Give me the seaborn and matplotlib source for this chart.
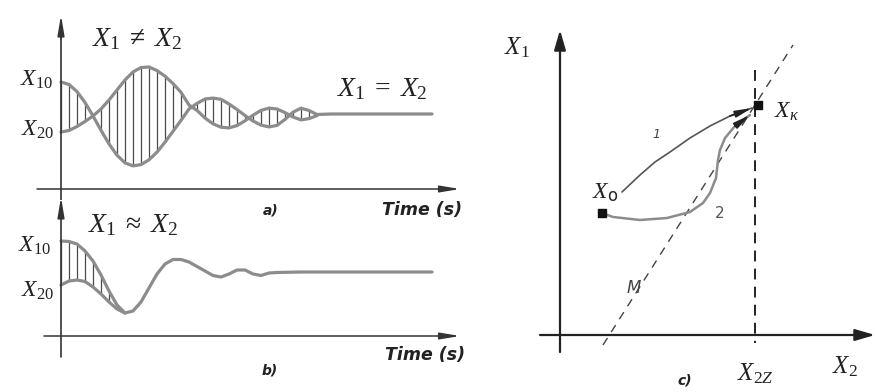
import numpy as np
import pandas as pd
import matplotlib
matplotlib.use("Agg")
import matplotlib.pyplot as plt
import seaborn as sns

# ---------- data ----------
# panel a: two oscillating responses, sampled every 0.8 s
t_a = np.round(np.arange(33) * 0.8, 2)
x1_a = [10.7, 10.45, 9.74, 8.65, 7.31, 5.87, 4.51, 3.38, 2.61, 2.31, 2.44,
        2.92, 3.69, 4.68, 5.77, 6.86, 8.0, 8.56, 9.0, 9.09, 8.97, 8.5,
        7.95, 7.35, 6.8, 6.39, 6.21, 6.36, 6.96, 7.68, 8.08, 7.85, 7.45]
x2_a = [5.7, 5.85, 6.25, 6.75, 7.3, 8.0, 8.9, 9.9, 10.9, 11.7, 12.15,
        12.2, 11.84, 11.28, 10.54, 9.67, 8.4, 7.86, 7.1, 6.52, 6.18, 6.11,
        6.34, 6.82, 7.38, 7.86, 8.09, 8.0, 7.64, 7.2, 6.91, 7.04, 7.34]
t_tail_a = [27.0, 37.1]
x_tail_a = [7.5, 7.5]

# panel b: nearly equal responses
t_b = np.round(np.arange(28) * 0.8, 2)
x1_b = [9.5, 9.45, 9.2, 8.5, 7.5, 6.1, 4.5, 3.1, 2.3, 2.5, 3.4, 4.8, 6.2,
        7.2, 7.65, 7.65, 7.4, 6.95, 6.5, 6.05, 5.9, 6.2, 6.6, 6.6, 6.2,
        6.05, 6.3, 6.35]
x2_b = [5.1, 5.5, 5.6, 5.45, 4.9, 4.2, 3.4, 2.7, 2.3]
t_tail_b = [23.9, 37.1]
x_tail_b = [6.4, 6.4]

# panel c: phase plane trajectories
x0_pt = (4.2, 12.2)
xk_pt = (19.8, 23.0)
x2z = 19.5
m_line_x2 = [4.3, 23.3]
m_line_x1 = [-1.0, 29.0]
path1_x2 = [6.2, 8.0, 9.5, 11.0, 13.0, 15.0, 17.0, 19.2]
path1_x1 = [14.3, 16.0, 17.3, 18.3, 19.7, 20.9, 21.9, 22.7]
path2_x2 = [4.2, 5.3, 8.0, 10.7, 13.0, 14.3, 15.0, 15.6, 15.8, 16.0, 16.5, 17.5, 19.0]
path2_x1 = [12.2, 11.8, 11.5, 11.7, 12.3, 13.2, 14.2, 15.7, 17.5, 18.5, 19.7, 20.9, 22.0]

sns.set_style("white")
plt.rcParams["mathtext.fontset"] = "custom"
plt.rcParams["mathtext.rm"] = "Liberation Serif"
plt.rcParams["mathtext.it"] = "Liberation Serif:italic"
plt.rcParams["mathtext.sf"] = "DejaVu Sans"
plt.rcParams["font.family"] = ["DejaVu Sans"]

GREY = "#8c8c8c"
AXC = "#333333"
fig = plt.figure(figsize=(8.75, 3.92), dpi=100)


def arrow(ax, start, end, lw=1.2, hl=0.8, hw=0.15, color=AXC):
    ax.annotate("", xy=end, xytext=start,
                arrowprops=dict(arrowstyle=f"-|>,head_length={hl},head_width={hw}",
                                lw=lw, color=color, shrinkA=0, shrinkB=0))


def lab(ax, x, y, s, size=14, **kw):
    ax.text(x, y, s, fontsize=size, ha=kw.pop("ha", "center"),
            va=kw.pop("va", "center"), color=kw.pop("color", "#222222"), **kw)


def time_panel(ax, t, x1, x2, t_tail, x_tail, nhatch):
    ax.vlines(t[:nhatch], np.minimum(x1[:nhatch], x2[:nhatch]),
              np.maximum(x1[:nhatch], x2[:nhatch]), color="#4a4a4a", lw=0.9)
    d1 = pd.DataFrame({"t": list(t[:len(x1)]) + t_tail, "x": list(x1) + x_tail})
    d2 = pd.DataFrame({"t": list(t[:len(x2)]), "x": list(x2)})
    sns.lineplot(data=d1, x="t", y="x", ax=ax, color=GREY, lw=2.3,
                 sort=False, estimator=None)
    sns.lineplot(data=d2, x="t", y="x", ax=ax, color=GREY, lw=2.3,
                 sort=False, estimator=None)


# ---------- panel a ----------
ax_a = fig.add_axes([0, 192 / 392, 470 / 875, 200 / 392])
ax_a.set_xlim(-6.1, 40.9)
ax_a.set_ylim(-1.1, 18.9)
ax_a.axis("off")
time_panel(ax_a, t_a, x1_a, x2_a, t_tail_a, x_tail_a, len(t_a))
ax_a.plot([0, 0], [-1.1, 16], color=AXC, lw=1.2)
arrow(ax_a, (0, 15.0), (0, 17.4), lw=1.2, hl=1.2, hw=0.2)
arrow(ax_a, (-2.4, 0), (39.9, 0), lw=1.1, hl=1.2, hw=0.2)
lab(ax_a, 7.6, 15.1, r"$X_{\mathit{1}}\;\neq\; X_{\mathit{2}}$", size=20)
lab(ax_a, 32.1, 10.1, r"$X_{\mathit{1}}\;=\;X_{\mathit{2}}$", size=20)
lab(ax_a, -0.8, 11.0, r"$X_{\mathit{10}}$", size=17, ha="right")
lab(ax_a, -0.7, 6.0, r"$X_{\mathit{20}}$", size=17, ha="right")
lab(ax_a, 21.0, -2.1, "a)", size=10, fontweight="bold", fontstyle="italic")
lab(ax_a, 36.1, -2.1, "Time (s)", size=12.5, fontweight="bold", fontstyle="italic")

# ---------- panel b ----------
ax_b = fig.add_axes([0, 0, 470 / 875, 197 / 392])
ax_b.set_xlim(-6.1, 40.9)
ax_b.set_ylim(-5.6, 14.1)
ax_b.axis("off")
time_panel(ax_b, t_b, x1_b, x2_b, t_tail_b, x_tail_b, len(x2_b))
ax_b.plot([0, 0], [-2.1, 12.5], color=AXC, lw=1.2)
arrow(ax_b, (0, 12.0), (0, 13.9), lw=1.2, hl=1.2, hw=0.2)
arrow(ax_b, (-1.7, 0), (39.9, 0), lw=1.1, hl=1.2, hw=0.2)
lab(ax_b, 7.2, 11.2, r"$X_{\mathit{1}}\;\approx\; X_{\mathit{2}}$", size=20)
lab(ax_b, -1.0, 9.1, r"$X_{\mathit{10}}$", size=17, ha="right")
lab(ax_b, -0.7, 4.6, r"$X_{\mathit{20}}$", size=17, ha="right")
lab(ax_b, 36.4, -1.9, "Time (s)", size=12.5, fontweight="bold", fontstyle="italic")
lab(ax_b, 20.9, -3.4, "b)", size=10, fontweight="bold", fontstyle="italic")

# ---------- panel c ----------
ax_c = fig.add_axes([480 / 875, 0, 395 / 875, 1])
ax_c.set_xlim(-8, 31.5)
ax_c.set_ylim(-5.7, 33.5)
ax_c.axis("off")
arrow(ax_c, (0, -1.7), (0, 30.5), lw=1.6, hl=1.2, hw=0.35, color="#222222")
arrow(ax_c, (-2.0, 0), (31.5, 0), lw=1.6, hl=1.2, hw=0.35, color="#222222")
ax_c.plot([x2z, x2z], [26.5, -0.8], color="#111111", lw=1.3, dashes=(6, 4))
ax_c.plot(m_line_x2, m_line_x1, color="#444444", lw=1.0, dashes=(6, 5))
sns.lineplot(x=path1_x2, y=path1_x1, ax=ax_c, color="#555555", lw=1.2,
             sort=False, estimator=None)
sns.lineplot(x=path2_x2, y=path2_x1, ax=ax_c, color=GREY, lw=1.8,
             sort=False, estimator=None)
arrow(ax_c, (path1_x2[-2], path1_x1[-2]), (path1_x2[-1], path1_x1[-1]),
      lw=1.2, hl=1.0, hw=0.2, color="#222222")
arrow(ax_c, (path2_x2[-2], path2_x1[-2]), (path2_x2[-1], path2_x1[-1]),
      lw=1.2, hl=1.0, hw=0.2, color="#222222")
ax_c.scatter([x0_pt[0], xk_pt[0]], [x0_pt[1], xk_pt[1]], marker="s", s=30,
             color="#111111", zorder=5)
lab(ax_c, -4.3, 28.7, r"$X_{\mathit{1}}$", size=18)
lab(ax_c, 28.5, -3.2, r"$X_{\mathit{2}}$", size=18)
lab(ax_c, 19.5, -3.9, r"$X_{\mathit{2Z}}$", size=18)
lab(ax_c, 22.7, 22.4, r"$X_{\kappa}$", size=17)
lab(ax_c, 4.5, 14.3, r"$X_{\mathsf{o}}$", size=17)
lab(ax_c, 9.6, 20.0, "1", size=9, fontstyle="italic", color="#444444")
lab(ax_c, 16.0, 12.2, "2", size=11, color="#555555")
lab(ax_c, 7.4, 4.7, "M", size=12, fontstyle="italic", color="#444444")
lab(ax_c, 12.5, -4.5, "c)", size=10, fontweight="bold", fontstyle="italic")

fig.savefig("out.png", dpi=100)
